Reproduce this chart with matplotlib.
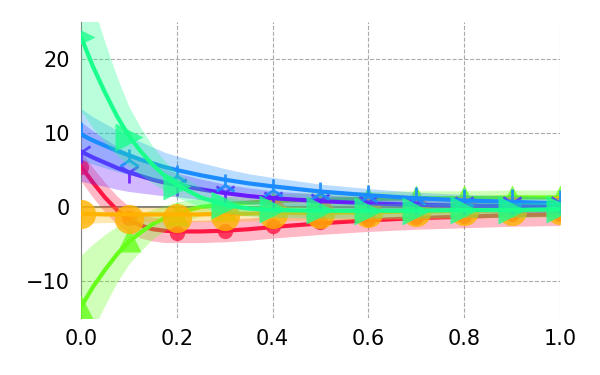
import numpy as np
import matplotlib
matplotlib.use("Agg")
import matplotlib.pyplot as plt

x_pts = [0.0, 0.1, 0.2, 0.3, 0.4, 0.5, 0.6, 0.7, 0.8, 0.9, 1.0]
x_fit = [0.0, 0.025, 0.05, 0.075, 0.1, 0.125, 0.15, 0.175, 0.2, 0.25, 0.3, 0.35,
         0.4, 0.5, 0.6, 0.7, 0.8, 0.9, 1.0]

red_pts = [5.4, -1.5, -3.5, -3.2, -2.6, -2.0, -1.6, -1.3, -1.2, -1.0, -1.0]
red_fit = [5.5, 3.3, 1.3, -0.4, -1.7, -2.5, -3.0, -3.2, -3.3, -3.3, -3.2, -3.0,
           -2.7, -2.2, -1.8, -1.5, -1.3, -1.1, -1.0]
red_band = [2.0, 2.0, 2.0, 1.9, 1.8, 1.7, 1.6, 1.6, 1.5, 1.5, 1.5, 1.5,
            1.5, 1.5, 1.5, 1.5, 1.5, 1.5, 1.5]

lime_pts = [-13.5, -4.5, -1.0, -0.3, 0.5, 0.8, 1.2, 1.3, 1.3, 1.3, 1.4]
lime_fit = [-13.5, -10.8, -8.5, -6.4, -4.7, -3.4, -2.3, -1.5, -0.8, 0.0, 0.4, 0.6,
            0.8, 1.0, 1.1, 1.2, 1.2, 1.3, 1.3]
lime_band = [7.0, 5.8, 4.8, 3.8, 3.0, 2.5, 2.0, 1.7, 1.5, 1.2, 1.0, 1.0,
             1.0, 1.0, 1.0, 1.0, 1.0, 1.0, 1.0]

orange_pts = [-1.0, -1.6, -1.5, -1.2, -1.0, -0.9, -0.8, -0.7, -0.6, -0.5, -0.4]
orange_fit = [-0.9, -0.95, -1.0, -1.0, -1.0, -1.0, -1.0, -1.0, -1.0, -1.0, -0.9, -0.9,
              -0.8, -0.8, -0.7, -0.6, -0.5, -0.4, -0.3]
orange_band = [1.2, 1.2, 1.1, 1.1, 1.0, 1.0, 1.0, 1.0, 1.0, 1.0, 1.0, 1.0,
               1.0, 1.0, 1.0, 1.0, 1.0, 1.0, 1.0]

purple_pts = [7.5, 4.7, 3.0, 2.0, 1.2, 0.9, 0.7, 0.6, 0.6, 0.5, 0.5]
purple_fit = [7.5, 6.7, 6.0, 5.3, 4.7, 4.2, 3.7, 3.3, 3.0, 2.4, 1.9, 1.5,
              1.2, 0.8, 0.5, 0.3, 0.2, 0.1, 0.0]
purple_band = [4.0, 3.6, 3.2, 2.9, 2.6, 2.3, 2.0, 1.8, 1.6, 1.4, 1.2, 1.1,
               1.0, 0.9, 0.8, 0.8, 0.8, 0.8, 0.8]

blue_pts = [10.0, 6.4, 4.2, 3.0, 2.3, 1.9, 1.5, 1.2, 1.0, 0.9, 0.8]
blue_fit = [9.8, 9.0, 8.3, 7.6, 7.0, 6.4, 5.9, 5.4, 5.0, 4.3, 3.7, 3.2,
            2.8, 2.1, 1.6, 1.2, 0.9, 0.7, 0.5]
blue_band = [3.5, 3.2, 3.0, 2.8, 2.6, 2.4, 2.2, 2.0, 1.9, 1.7, 1.5, 1.3,
             1.2, 1.0, 0.9, 0.8, 0.8, 0.8, 0.8]

spring_pts = [23.0, 9.5, 2.8, 0.3, -0.2, -0.4, -0.5, -0.5, -0.4, -0.4, -0.3]
spring_fit = [23.0, 19.0, 15.5, 12.3, 9.6, 7.5, 5.7, 4.2, 3.0, 1.3, 0.3, -0.2,
              -0.4, -0.5, -0.5, -0.5, -0.4, -0.4, -0.3]
spring_band = [10.0, 8.3, 6.8, 5.3, 4.0, 3.2, 2.5, 2.0, 1.7, 1.3, 1.1, 1.0,
               1.0, 1.0, 1.0, 1.0, 1.0, 1.0, 1.0]

series = [
    ("red", red_pts, red_fit, red_band, "#ff1744", "o", 11, 0),
    ("lime", lime_pts, lime_fit, lime_band, "#66ff1a", "^", 17, 0),
    ("orange", orange_pts, orange_fit, orange_band, "#ffb300", "o", 21, 0),
    ("purple", purple_pts, purple_fit, purple_band, "#6a1aff", "1", 16, 2),
    ("blue", blue_pts, blue_fit, blue_band, "#1a8cff", "2", 16, 2),
    ("spring", spring_pts, spring_fit, spring_band, "#1aff8c", ">", 20, 0),
]

fig = plt.figure(figsize=(6, 3.75), dpi=100)
ax = fig.add_axes([0.135, 0.152, 0.798, 0.789])

ax.axhline(0, color="gray", lw=1.5, zorder=1)

z = 2
for name, pts, fit, band, c, m, ms, mew in series:
    fit = np.array(fit)
    band = np.array(band)
    ax.fill_between(x_fit, fit - band, fit + band, color=c, alpha=0.3, lw=0, zorder=z)
    ax.plot(x_fit, fit, color=c, lw=3, zorder=z + 1, solid_joinstyle="round")
    if mew:
        ax.plot(x_pts, pts, ls="none", marker=m, ms=ms, mew=mew, color=c, alpha=0.9, zorder=z + 2)
    else:
        ax.plot(x_pts, pts, ls="none", marker=m, ms=ms, color=c, alpha=0.8, mec="none", zorder=z + 2)
    z += 3

ax.set_xlim(0, 1)
ax.set_ylim(-15, 25)
ax.set_xticks([0, 0.2, 0.4, 0.6, 0.8, 1.0])
ax.set_yticks([-10, 0, 10, 20])
ax.grid(True, ls="--", color="#aaaaaa", lw=0.8)
ax.set_axisbelow(True)
for s in ["top", "right", "bottom"]:
    ax.spines[s].set_visible(False)
ax.spines["left"].set_color("gray")
ax.tick_params(length=0, labelsize=15, pad=8)

fig.savefig("out.png", dpi=100)
